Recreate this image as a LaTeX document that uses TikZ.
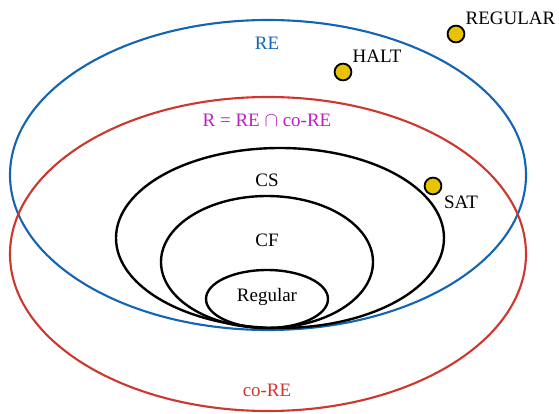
\documentclass[tikz,border=0pt]{standalone}
\usepackage{fontspec}
\setmainfont{Liberation Serif}
\usepackage{xcolor}
\usepackage{tikz}
\usetikzlibrary{positioning}

\definecolor{reblue}{RGB}{20,100,180}
\definecolor{cored}{RGB}{205,55,45}
\definecolor{rmag}{RGB}{190,30,200}
\definecolor{dotyellow}{RGB}{232,196,0}

\begin{document}
\begin{tikzpicture}[
    x=0.025cm, y=-0.025cm,
    setline/.style={line width=1.5pt},
    classlbl/.style={font=\fontsize{13.5}{15}\selectfont, inner sep=1pt},
    problem/.style={circle, draw, fill=dotyellow, line width=1.3pt, minimum size=0.42cm, inner sep=0pt},
    problbl/.style={font=\fontsize{13.5}{15}\selectfont, inner sep=1pt},
]
\useasboundingbox (0,0) rectangle (559,414);

% outer classes
\draw[setline, reblue] (268,175) ellipse [x radius=258, y radius=155];
\draw[setline, cored]  (268,254) ellipse [x radius=258, y radius=157];

% nested classes
\draw[setline, black, line width=1.7pt] (280,238) ellipse [x radius=164, y radius=90];
\draw[setline, black, line width=1.7pt] (267,262) ellipse [x radius=106, y radius=66];
\draw[setline, black, line width=1.7pt] (267,299) ellipse [x radius=61, y radius=29];

\node[classlbl, text=reblue] (re)   at (267,43)  {RE};
\node[classlbl, text=rmag]   (rec)  at (267,120) {R = RE $\cap$ co-RE};
\node[classlbl]              (cs)   at (267,180) {CS};
\node[classlbl]              (cf)   at (267,240) {CF};
\node[classlbl]              (reg)  at (267,297) {Regular};
\node[classlbl, text=cored]  (core) at (267,390) {co-RE};

% sample problems
\node[problem] (regularp) at (456,34)  {};
\node[problem] (halt)     at (343,72)  {};
\node[problem] (sat)      at (433,186) {};

\node[problbl, above right=1pt and 1pt of regularp] (regularl) {REGULAR};
\node[problbl, above right=1pt and 1pt of halt]     (haltl)    {HALT};
\node[problbl, below right=1.5pt and 2pt of sat]    (satl)     {SAT};

\end{tikzpicture}
\end{document}
